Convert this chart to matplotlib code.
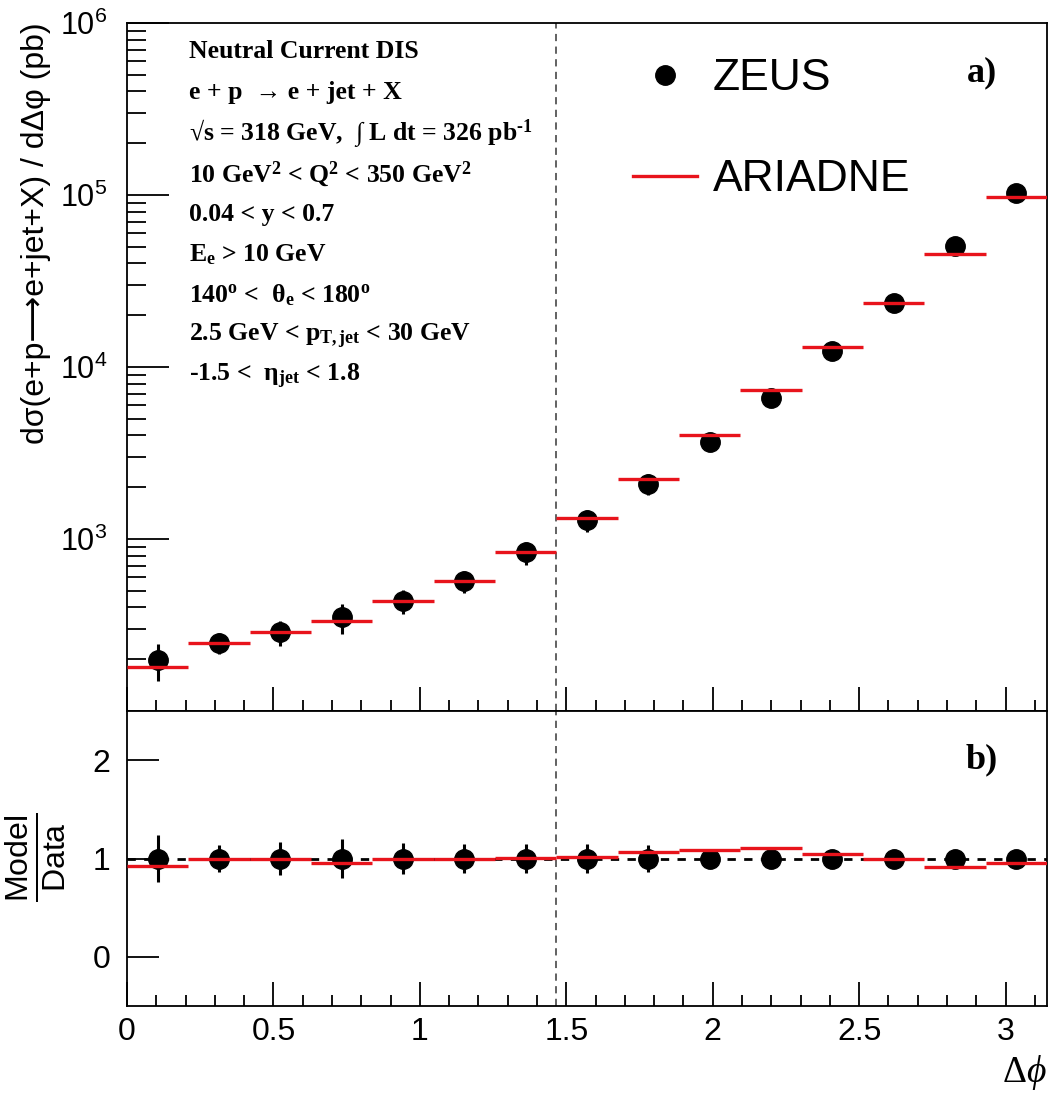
import numpy as np
import matplotlib
matplotlib.use('Agg')
import matplotlib.pyplot as plt
from matplotlib.lines import Line2D
from matplotlib.ticker import FixedLocator, LogLocator, NullFormatter, MultipleLocator

plt.rcParams['font.family'] = ['Liberation Sans', 'DejaVu Sans']
plt.rcParams['mathtext.fontset'] = 'custom'
plt.rcParams['mathtext.rm'] = 'Liberation Serif:bold'
plt.rcParams['mathtext.bf'] = 'Liberation Serif:bold'
plt.rcParams['mathtext.it'] = 'Liberation Serif:italic'
plt.rcParams['mathtext.sf'] = 'Liberation Sans'

# 15 gleiche bins in delta phi von 0 bis pi
phi_edges = np.linspace(0, np.pi, 16)
phi_centers = 0.5 * (phi_edges[:-1] + phi_edges[1:])

# ZEUS daten (pb)
zeus_xsec = [197, 248, 287, 351, 435, 569, 835, 1290, 2090, 3672, 6620,
             12440, 23440, 50200, 102600]
# relative fehler
zeus_relerr = [0.24, 0.14, 0.17, 0.20, 0.16, 0.15, 0.15, 0.15, 0.14, 0.09,
               0.05, 0.06, 0.05, 0.04, 0.05]
# ARIADNE vorhersage (pb)
ariadne_xsec = [181, 248, 287, 335, 435, 569, 840, 1316, 2226, 4002, 7350,
                13060, 23440, 45680, 98000]

phi_cut = phi_edges[7]

text_lines = [
    "Neutral Current DIS",
    "e + p  \u2192 e + jet + X",
    "\u221As = 318 GeV,  \u222B L dt = 326 pb$^{\\text{-1}}$",
    "10 GeV$^{\\rm 2}$ < Q$^{\\rm 2}$ < 350 GeV$^{\\rm 2}$",
    "0.04 < y < 0.7",
    "E$_{\\rm e}$ > 10 GeV",
    "140$^{\\rm o}$ <  \u03b8$_{\\rm e}$ < 180$^{\\rm o}$",
    "2.5 GeV < p$_{\\rm T,jet}$ < 30 GeV",
    "-1.5 <  \u03b7$_{\\rm jet}$ < 1.8",
]

data = np.array(zeus_xsec, dtype=float)
rel = np.array(zeus_relerr)
model = np.array(ariadne_xsec, dtype=float)
ratio = model / data

W, H = 1048, 1095
fig = plt.figure(figsize=(W / 100, H / 100), dpi=100)
left = 127 / W
width = 920 / W
ax1 = fig.add_axes([left, 1 - 711 / H, width, (711 - 23) / H])
ax2 = fig.add_axes([left, 1 - 1006 / H, width, (1006 - 711) / H], sharex=ax1)

red = '#e8141c'

# oberes panel
ax1.errorbar(phi_centers, data, yerr=rel * data, fmt='o', color='black',
             markersize=14, elinewidth=2.2, capsize=0, zorder=3)
ax1.hlines(model, phi_edges[:-1], phi_edges[1:], colors=red, linewidth=2.4, zorder=4)
ax1.axvline(phi_cut, color='#555555', linewidth=1.3, dashes=(4, 3), zorder=1)
ax1.set_yscale('log')
ax1.set_ylim(100, 1e6)
ax1.set_xlim(0, np.pi)
ax1.yaxis.set_major_locator(FixedLocator([1e3, 1e4, 1e5, 1e6]))
ax1.set_yticklabels([r'$\mathsf{10^{%d}}$' % e for e in [3, 4, 5, 6]])
ax1.yaxis.set_minor_locator(LogLocator(base=10, subs=np.arange(2, 10), numticks=20))
ax1.yaxis.set_minor_formatter(NullFormatter())
ax1.tick_params(axis='y', which='major', direction='in', length=30, width=1.3, labelsize=22, pad=14)
ax1.tick_params(axis='y', which='minor', direction='in', length=14, width=1.3)
ax1.tick_params(axis='x', which='major', direction='in', length=17, width=1.3, labelbottom=False)
ax1.tick_params(axis='x', which='minor', direction='in', length=8, width=1.3)
ax1.set_ylabel('d\u03c3(e+p\u27f6e+jet+X) / d\u0394\u03c6 (pb)', fontsize=23)
ax1.yaxis.set_label_coords(-0.083, 0.695)

# parameter text
for i, line in enumerate(text_lines):
    yc = 52 + i * 40.6
    ax1.text(0.0674, 1 - (yc - 23) / 688, line, transform=ax1.transAxes,
             fontfamily='Liberation Serif', fontweight='bold', fontsize=18.5,
             va='center', ha='left')

ax1.text(0.929, 0.927, 'a)', transform=ax1.transAxes, fontfamily='Liberation Serif',
         fontweight='bold', fontsize=26, ha='center', va='center')

handles = [Line2D([], [], marker='o', color='black', linestyle='none', markersize=14),
           Line2D([], [], color=red, linewidth=2.4)]
ax1.legend(handles, ['ZEUS', 'ARIADNE'], loc='upper left', bbox_to_anchor=(0.55, 0.949),
           frameon=False, fontsize=32, handlelength=1.45, handletextpad=0.34,
           labelspacing=1.35, borderpad=0, borderaxespad=0)

# unteres panel
ax2.errorbar(phi_centers, np.ones_like(data), yerr=rel, fmt='o', color='black',
             markersize=14, elinewidth=2.2, capsize=0, zorder=3)
ax2.hlines(ratio, phi_edges[:-1], phi_edges[1:], colors=red, linewidth=2.4, zorder=4)
ax2.axhline(1, color='black', linewidth=2, dashes=(3, 3), zorder=2)
ax2.axvline(phi_cut, color='#555555', linewidth=1.3, dashes=(4, 3), zorder=1)
ax2.set_ylim(-0.5, 2.5)
ax2.set_yticks([0, 1, 2])
ax2.set_yticklabels(['0', '1', '2'])
ax2.set_xticks([0, 0.5, 1, 1.5, 2, 2.5, 3])
ax2.set_xticklabels(['0', '0.5', '1', '1.5', '2', '2.5', '3'])
ax2.xaxis.set_minor_locator(MultipleLocator(0.1))
ax2.tick_params(axis='y', which='major', direction='in', length=23, width=1.3, labelsize=23, pad=12)
ax2.tick_params(axis='x', which='major', direction='in', length=17, width=1.3, labelsize=23, pad=8)
ax2.tick_params(axis='x', which='minor', direction='in', length=8, width=1.3)
ax2.set_ylabel(r'$\frac{\mathsf{Model}}{\mathsf{Data}}$', fontsize=33)
ax2.yaxis.set_label_coords(-0.064, 0.505)
ax2.text(1.0, -0.224, '\u0394$\\mathit{\\phi}$', transform=ax2.transAxes,
         fontfamily='Liberation Serif', fontsize=27, ha='right', va='center')
ax2.text(0.929, 0.834, 'b)', transform=ax2.transAxes, fontfamily='Liberation Serif',
         fontweight='bold', fontsize=26, ha='center', va='center')

for ax in (ax1, ax2):
    for s in ax.spines.values():
        s.set_linewidth(1.3)

fig.savefig('out.png', dpi=100)
